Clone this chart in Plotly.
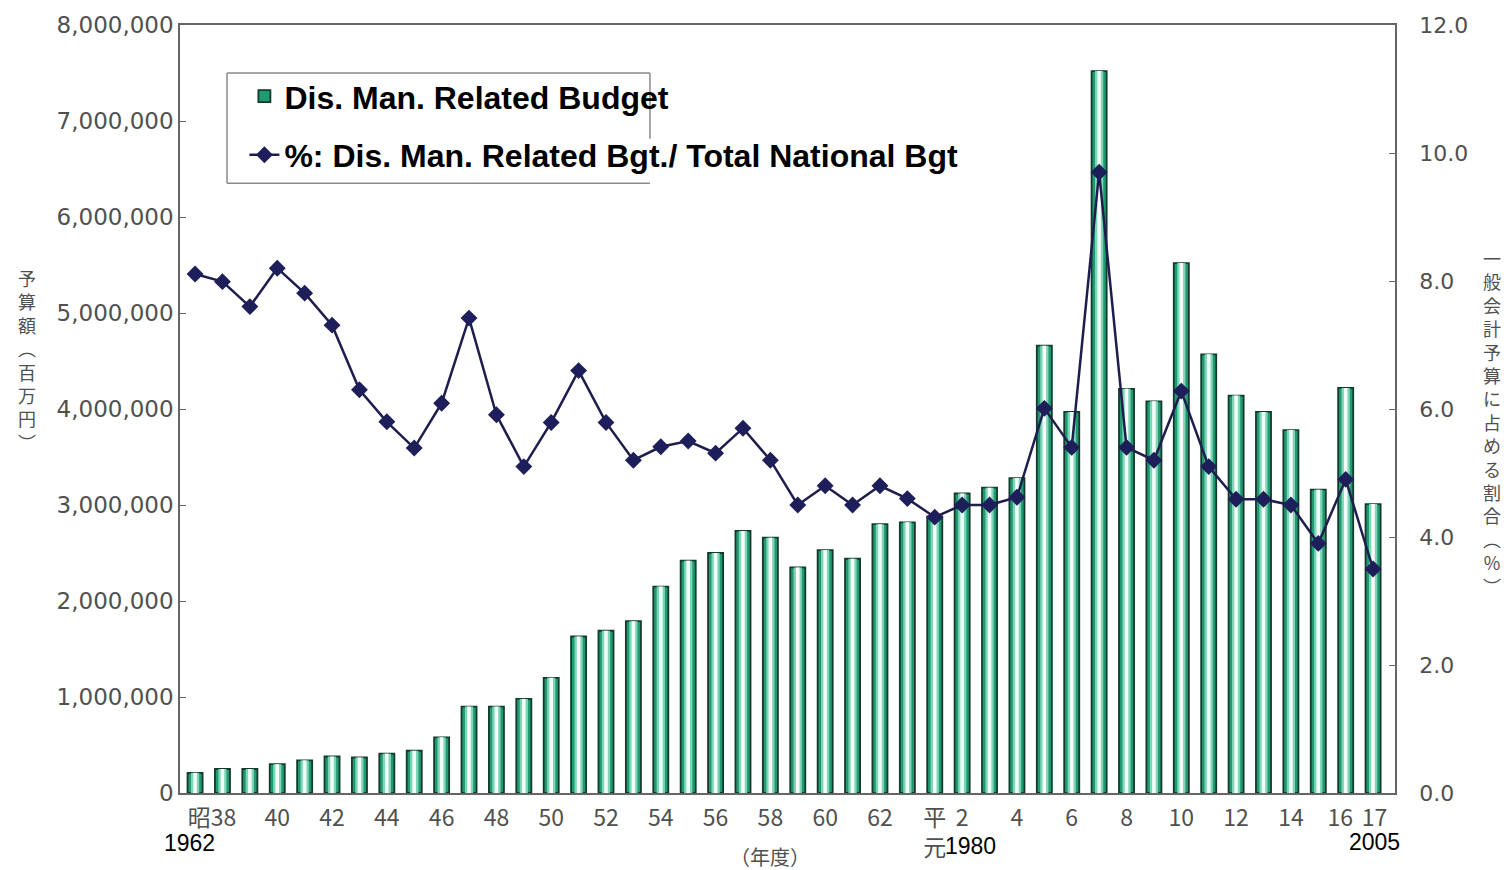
import plotly.graph_objects as go

# fiscal years Showa 37 (1962) .. Heisei 17 (2005)
years = [1962, 1963, 1964, 1965, 1966, 1967, 1968, 1969, 1970, 1971,
         1972, 1973, 1974, 1975, 1976, 1977, 1978, 1979, 1980, 1981,
         1982, 1983, 1984, 1985, 1986, 1987, 1988, 1989, 1990, 1991,
         1992, 1993, 1994, 1995, 1996, 1997, 1998, 1999, 2000, 2001,
         2002, 2003, 2004, 2005]

# disaster management related budget (million yen)
budget = [210000, 250000, 250000, 300000, 340000, 380000, 370000, 410000, 440000, 580000,
          900000, 900000, 980000, 1200000, 1630000, 1690000, 1790000, 2150000, 2420000, 2500000,
          2730000, 2660000, 2350000, 2530000, 2440000, 2800000, 2820000, 2880000, 3120000, 3180000,
          3280000, 4660000, 3970000, 7520000, 4210000, 4080000, 5520000, 4570000, 4140000, 3970000,
          3780000, 3160000, 4220000, 3010000]

# share of total national general account budget (%)
ratio = [8.11, 7.99, 7.60, 8.20, 7.81, 7.31, 6.30, 5.80, 5.39, 6.09,
         7.42, 5.91, 5.10, 5.79, 6.60, 5.79, 5.20, 5.41, 5.50, 5.31,
         5.70, 5.20, 4.50, 4.80, 4.50, 4.80, 4.60, 4.31, 4.50, 4.50,
         4.62, 6.01, 5.40, 9.70, 5.40, 5.20, 6.28, 5.10, 4.59, 4.59,
         4.50, 3.90, 4.90, 3.50]

tick_pos = [1962.62, 1965, 1967, 1969, 1971, 1973, 1975, 1977, 1979, 1981,
            1983, 1985, 1987, 1989, 1990, 1992, 1994, 1996, 1998, 2000,
            2002, 2003.8, 2005.05]
tick_text = ["昭38", "40", "42", "44", "46", "48", "50", "52", "54", "56",
             "58", "60", "62", "平<br>元", "2", "4", "6", "8", "10", "12",
             "14", "16", "17"]

gray = "#505050"
num_font = "DejaVu Sans, Noto Sans CJK JP"

fig = go.Figure()

fig.add_trace(go.Bar(
    x=years, y=budget, width=0.55,
    name="Dis. Man. Related Budget",
    legendgroup="a",
    marker=dict(color="#1f9a72", line=dict(color="#143a2e", width=1.8))
))
fig.add_trace(go.Bar(
    x=years, y=budget, width=0.3,
    marker=dict(color="#7fd6b7", line=dict(width=0)),
    showlegend=False, hoverinfo="skip"
))
fig.add_trace(go.Bar(
    x=years, y=budget, width=0.13,
    marker=dict(color="#f3fcf8", line=dict(width=0)),
    showlegend=False, hoverinfo="skip"
))

fig.add_trace(go.Scatter(
    x=years, y=ratio, yaxis="y2",
    name="%: Dis. Man. Related Bgt./ Total National Bgt",
    legendgroup="b",
    mode="lines+markers",
    line=dict(color="#1e1e4e", width=2.5),
    marker=dict(symbol="diamond", size=13, color="#1e1e5a")
))

# legend frame (right side stops where the text runs over it)
lx0, lx1, ly0, ly1 = 0.0387, 0.3868, 0.794, 0.9375
for x0, y0, x1, y1 in [(lx0, ly0, lx1, ly0), (lx0, ly1, lx1, ly1),
                       (lx0, ly0, lx0, ly1), (lx1, 0.852, lx1, ly1)]:
    fig.add_shape(type="line", xref="paper", yref="paper",
                  x0=x0, y0=y0, x1=x1, y1=y1,
                  line=dict(color="#8a8a8a", width=1.5))

fig.add_annotation(x=-0.126, y=0.564, xref="paper", yref="paper",
                   xanchor="center", yanchor="middle",
                   text="予<br>算<br>額<br>︵<br>百<br>万<br>円<br>︶",
                   showarrow=False, font=dict(family="Noto Sans CJK JP", size=18, color=gray))
fig.add_annotation(x=1.080, y=0.483, xref="paper", yref="paper",
                   xanchor="center", yanchor="middle",
                   text="一<br>般<br>会<br>計<br>予<br>算<br>に<br>占<br>め<br>る<br>割<br>合<br>︵<br>％<br>︶",
                   showarrow=False, font=dict(family="Noto Sans CJK JP", size=18, color=gray))
fig.add_annotation(x=1983, y=(793 - 856) / 768, xref="x", yref="paper", yanchor="middle",
                   text="（年度）", showarrow=False,
                   font=dict(family="Noto Sans CJK JP", size=20, color=gray))

for yr, lbl, ypix in [(1961.8, "1962", 843), (1990.3, "1980", 846), (2005.05, "2005", 842)]:
    fig.add_annotation(x=yr, y=(793 - ypix) / 768, xref="x", yref="paper",
                       text=lbl, showarrow=False, yanchor="middle",
                       font=dict(family="Arial, Liberation Sans", size=23, color="black"))

# page body has an 8px default margin, so the figure is 8px smaller and margins compensate
fig.update_layout(
    width=1501, height=862,
    barmode="overlay",
    paper_bgcolor="white",
    plot_bgcolor="white",
    margin=dict(l=172, r=114, t=17, b=77),
    showlegend=True,
    legend=dict(
        x=0.053, y=0.943, xanchor="left", yanchor="top",
        bgcolor="rgba(0,0,0,0)", borderwidth=0,
        tracegroupgap=14,
        font=dict(family="Arial, Liberation Sans", size=32, color="black", weight="bold")
    ),
    xaxis=dict(
        range=[1961.45, 2005.8], automargin=False,
        tickvals=tick_pos, ticktext=tick_text, tickangle=0,
        tickfont=dict(family="Noto Sans CJK JP", size=23, color=gray), ticks="",
        ticklabelstandoff=4,
        showline=True, linecolor="#666666", linewidth=1.5, mirror=True,
        showgrid=False, zeroline=False
    ),
    yaxis=dict(
        range=[0, 8000000], dtick=1000000, tickformat=",", automargin=False,
        tickfont=dict(family=num_font, size=23, color=gray),
        ticks="inside", ticklen=6, tickcolor="#666666",
        showline=True, linecolor="#666666", linewidth=1.5,
        showgrid=False, zeroline=False
    ),
    yaxis2=dict(
        range=[0, 12], dtick=2, tickformat=".1f", automargin=False,
        overlaying="y", side="right",
        tickfont=dict(family=num_font, size=22, color=gray),
        ticks="inside", ticklen=6, tickcolor="#666666",
        ticklabelstandoff=18,
        showline=True, linecolor="#666666", linewidth=1.5,
        showgrid=False, zeroline=False
    )
)

fig.write_html("out.html")
